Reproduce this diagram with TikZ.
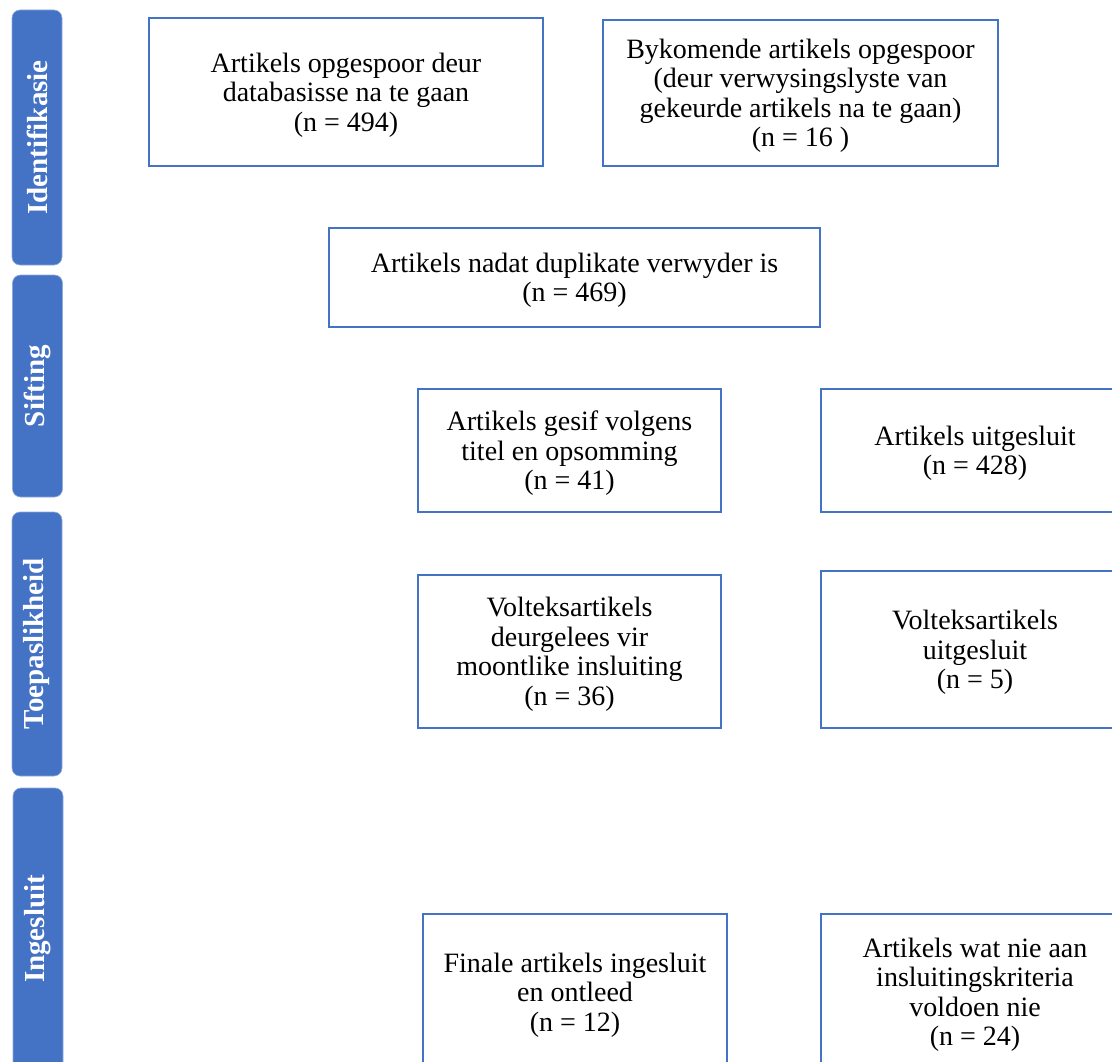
\documentclass[tikz,border=0pt]{standalone}
\usepackage{fontspec}
\setmainfont{Liberation Serif}
\definecolor{wordblue}{HTML}{4472C4}
\begin{document}
\begin{tikzpicture}[x=1pt,y=-1pt,
  box/.style={draw=wordblue,line width=2.5pt,rectangle,align=center,inner sep=0pt,
    text depth=0pt,font=\fontsize{28}{29.5}\selectfont},
  bar/.style={fill=wordblue,draw=wordblue!60,line width=0.6pt,rounded corners=8pt,rotate=90,
    minimum height=50pt,inner sep=0pt,text=white,font=\fontsize{29}{30}\selectfont\bfseries}]
\useasboundingbox (0,0) rectangle (1112,1062);
\clip (0,0) rectangle (1112,1062);
% phase bars
\node[bar,minimum width=255pt] (s1) at (37,137.5) {Identifikasie};
\node[bar,minimum width=222pt] (s2) at (37.5,386) {Sifting};
\node[bar,minimum width=264pt] (s3) at (37,644) {Toepaslikheid};
\node[bar,minimum width=282pt] (s4) at (38,929) {Ingesluit};
% boxes
\node[box,minimum width=394pt,minimum height=148pt] (a) at (346,92)
  {Artikels opgespoor deur\\databasisse na te gaan\\(n = 494)};
\node[box,minimum width=395pt,minimum height=146pt] (b) at (800.5,93)
  {Bykomende artikels opgespoor\\(deur verwysingslyste van\\gekeurde artikels na te gaan)\\(n = 16 )};
\node[box,minimum width=491pt,minimum height=99pt] (c) at (574.5,277.5)
  {Artikels nadat duplikate verwyder is\\(n = 469)};
\node[box,minimum width=303pt,minimum height=123pt] (d) at (569.5,450.5)
  {Artikels gesif volgens\\titel en opsomming\\(n = 41)};
\node[box,minimum width=308pt,minimum height=123pt] (e) at (975,450.5)
  {Artikels uitgesluit\\(n = 428)};
\node[box,minimum width=303pt,minimum height=153pt] (f) at (569.5,651.5)
  {Volteksartikels\\deurgelees vir\\moontlike insluiting\\(n = 36)};
\node[box,minimum width=308pt,minimum height=157pt] (g) at (975,649.5)
  {Volteksartikels\\uitgesluit\\(n = 5)};
\node[box,minimum width=304pt,minimum height=156pt] (h) at (575,992)
  {Finale artikels ingesluit\\en ontleed\\(n = 12)};
\node[box,minimum width=308pt,minimum height=156pt] (i) at (975,992)
  {Artikels wat nie aan\\insluitingskriteria\\voldoen nie\\(n = 24)};
\end{tikzpicture}
\end{document}
